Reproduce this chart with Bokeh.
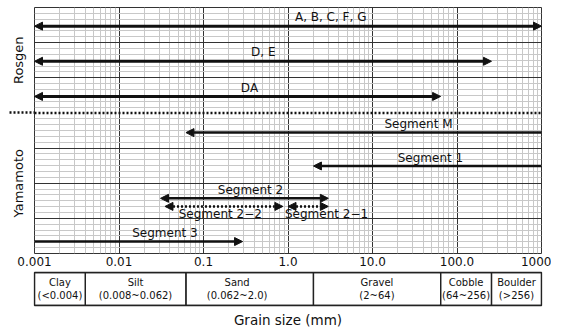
from bokeh.plotting import figure
from bokeh.models import (ColumnDataSource, FixedTicker, Arrow, NormalHead, Range1d, Title)
from bokeh.layouts import column
from bokeh.embed import file_html
from bokeh.resources import INLINE
from bokeh.core.properties import value

FONT = "DejaVu Sans"

# ---- axis ticks -------------------------------------------------------
x_ticks = [0.001, 0.01, 0.1, 1.0, 10.0, 100.0, 1000.0]
x_tick_labels = ["0.001", "0.01", "0.1", "1.0", "10.0", "100.0", "1000"]
x_minor = [k * t for t in x_ticks[:-1] for k in range(2, 10)]

row_lines = [0, 1, 2, 3, 5, 6, 7]
row_minor = [r + k / 6 for r in range(7) for k in range(1, 6)]
group_pos = [2, 5.5]
group_names = ["Yamamoto", "Rosgen"]
separator_y = 4
separator_x = [0.001, 1000]

# ---- Rosgen ranges (double-headed arrows) ------------------------------
rosgen_labels = ["A, B, C, F, G", "D, E", "DA"]
rosgen_low = [0.001, 0.001, 0.001]
rosgen_high = [1000, 256, 64]
rosgen_y = [6.47, 5.47, 4.47]
rosgen_label_x = [3.2, 0.51, 0.35]
rosgen_label_y = [6.74, 5.72, 4.72]

# ---- Yamamoto segments -------------------------------------------------
seg_labels = ["Segment M", "Segment 1", "Segment 2", "Segment 2\u22122", "Segment 2\u22121", "Segment 3"]
seg_low = [0.062, 2.0, 0.031, 0.035, 1.0, 0.001]
seg_high = [1000, 1000, 3.0, 0.87, 3.0, 0.29]
seg_y = [3.44, 2.49, 1.57, 1.34, 1.34, 0.34]
seg_dotted = [False, False, False, True, True, False]
seg_head_low = [True, True, True, True, True, False]
seg_head_high = [False, False, True, True, True, True]
seg_label_x = [35, 48.5, 0.36, 0.158, 2.86, 0.035]
seg_label_y = [3.68, 2.72, 1.8, 1.12, 1.12, 0.58]

# ---- grain-size classes ------------------------------------------------
class_bounds = [0.001, 0.004, 0.062, 2.0, 64, 256, 1000]
class_names = ["Clay\n(<0.004)", "Silt\n(0.008~0.062)", "Sand\n(0.062~2.0)",
               "Gravel\n(2~64)", "Cobble\n(64~256)", "Boulder\n(>256)"]
class_label_x = [0.002, 0.0157, 0.25, 11.3, 128, 506]

x_range = Range1d(0.001, 1000)
INK = "#111111"

p = figure(x_axis_type="log", x_range=x_range, y_range=Range1d(0, 7),
           frame_width=507, frame_height=246, min_border_left=34,
           min_border_right=10, min_border_top=7, min_border_bottom=18,
           output_backend="svg", toolbar_location=None)
p.background_fill_color = "white"
p.outline_line_color = "#333333"
p.outline_line_width = 1

p.xaxis.ticker = FixedTicker(ticks=x_ticks, minor_ticks=x_minor)
p.xaxis.major_label_overrides = {t: l for t, l in zip(x_ticks, x_tick_labels)}
p.xaxis.major_tick_line_color = None
p.xaxis.minor_tick_line_color = None
p.xaxis.major_tick_out = 0
p.xaxis.minor_tick_out = 0
p.xaxis.major_tick_in = 0
p.xaxis.minor_tick_in = 0
p.xaxis.axis_line_color = None
p.xaxis.major_label_standoff = 3
p.xaxis.major_label_text_font = FONT
p.xaxis.major_label_text_font_size = "12px"
p.xaxis.major_label_text_color = INK

# y axis: group names as labels, the dotted separator as a long minor tick
p.yaxis.ticker = FixedTicker(ticks=group_pos, minor_ticks=[separator_y])
p.yaxis.major_label_overrides = {t: l for t, l in zip(group_pos, group_names)}
p.yaxis.major_label_orientation = "vertical"
p.yaxis.major_tick_line_color = None
p.yaxis.major_tick_out = 0
p.yaxis.major_tick_in = 0
p.yaxis.minor_tick_out = 25
p.yaxis.minor_tick_in = 0
p.yaxis.minor_tick_line_color = INK
p.yaxis.minor_tick_line_width = 2.5
p.yaxis.minor_tick_line_dash = "2 2"
p.yaxis.axis_line_color = None
p.yaxis.major_label_standoff = -17
p.yaxis.major_label_text_font = FONT
p.yaxis.major_label_text_font_size = "13px"
p.yaxis.major_label_text_color = INK

p.xgrid.grid_line_color = "#333333"
p.xgrid.grid_line_width = 1
p.xgrid.minor_grid_line_color = "#c8c8c8"
p.xgrid.minor_grid_line_width = 1
p.ygrid.ticker = FixedTicker(ticks=row_lines, minor_ticks=row_minor)
p.ygrid.grid_line_color = "#333333"
p.ygrid.grid_line_width = 1
p.ygrid.minor_grid_line_color = "#c8c8c8"
p.ygrid.minor_grid_line_width = 1

# separator between Rosgen and Yamamoto (inside the frame)
p.add_layout(Arrow(start=None, end=None, x_start=separator_x[0], x_end=separator_x[1],
                   y_start=separator_y, y_end=separator_y,
                   line_color=INK, line_width=2.5, line_dash="2 2"))


def head():
    return NormalHead(size=8, fill_color=INK, line_color=INK, line_width=1)


for lo, hi, y in zip(rosgen_low, rosgen_high, rosgen_y):
    src = ColumnDataSource(dict(x0=[lo], x1=[hi], y=[y]))
    p.add_layout(Arrow(source=src, x_start="x0", x_end="x1", y_start="y", y_end="y",
                       start=head(), end=head(), line_color=INK, line_width=3))

for lo, hi, y, dotted, hl, hh in zip(seg_low, seg_high, seg_y, seg_dotted,
                                      seg_head_low, seg_head_high):
    src = ColumnDataSource(dict(x0=[lo], x1=[hi], y=[y]))
    p.add_layout(Arrow(source=src, x_start="x0", x_end="x1", y_start="y", y_end="y",
                       start=head() if hl else None, end=head() if hh else None,
                       line_color=INK, line_width=2.5,
                       line_dash="2 2" if dotted else "solid"))

p.text(x=rosgen_label_x, y=rosgen_label_y, text=rosgen_labels,
       text_font=value(FONT), text_font_size="12px", text_color=INK,
       text_align="center", text_baseline="middle")
p.text(x=seg_label_x, y=seg_label_y, text=seg_labels,
       text_font=value(FONT), text_font_size="12px", text_color=INK,
       text_align="center", text_baseline="middle")

# ---- classification table ----------------------------------------------
t = figure(x_axis_type="log", x_range=x_range, y_range=Range1d(0, 1),
           frame_width=507, frame_height=33, min_border_left=34,
           min_border_right=10, min_border_top=1, min_border_bottom=0,
           output_backend="svg", toolbar_location=None)
t.outline_line_color = "#222222"
t.outline_line_width = 1.3
t.grid.visible = False
t.xaxis.visible = False
t.yaxis.visible = False
t.add_layout(Title(text="Grain size (mm)", align="center", text_font=FONT,
                   text_font_style="normal", text_font_size="13.5px",
                   text_color=INK, standoff=8), "below")

t.quad(left=class_bounds[:-1], right=class_bounds[1:], bottom=0, top=1,
       fill_color=None, line_color="#222222", line_width=1.3)
t.text(x=class_label_x, y=[0.5] * len(class_label_x), text=class_names,
       text_font=value(FONT), text_font_size="10px", text_color=INK,
       text_align="center", text_baseline="middle", text_line_height=1.2)

layout = column(p, t, spacing=0)
open("out.html", "w").write(file_html(layout, INLINE))
